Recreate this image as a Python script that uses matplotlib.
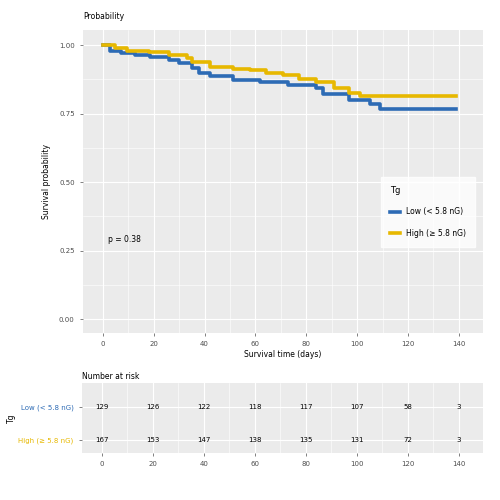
import matplotlib
matplotlib.use("Agg")
import matplotlib.pyplot as plt
import numpy as np

# survival curves (time in days, survival probability)
low_t = [0, 3, 7, 12.6, 18.5, 26, 30, 35, 38, 42, 51, 62, 73, 84, 86.5, 97, 105, 109, 139]
low_s = [1.0, 0.98, 0.97, 0.964, 0.957, 0.946, 0.935, 0.917, 0.90, 0.888, 0.873, 0.866,
         0.855, 0.844, 0.82, 0.80, 0.786, 0.768, 0.768]
high_t = [0, 4.7, 9.4, 18, 26, 33, 35, 42, 51, 58, 64, 71, 77, 84, 91, 97, 101, 139]
high_s = [1.0, 0.99, 0.98, 0.975, 0.965, 0.953, 0.94, 0.92, 0.913, 0.91, 0.90, 0.89,
          0.877, 0.866, 0.844, 0.826, 0.815, 0.815]

strata = ["Low (< 5.8 nG)", "High (\u2265 5.8 nG)"]
colors = ["#2D6BB5", "#E7B800"]
risk_times = [0, 20, 40, 60, 80, 100, 120, 140]
risk_low = [129, 126, 122, 118, 117, 107, 58, 3]
risk_high = [167, 153, 147, 138, 135, 131, 72, 3]
pval_text = "p = 0.38"

bg = "#EBEBEB"
fs = 5

fig = plt.figure(figsize=(5, 5), dpi=100)

# main survival panel
ax = fig.add_axes([0.166, 0.334, 0.8, 0.606])
ax.set_facecolor(bg)
ax.step(low_t, low_s, where="post", color=colors[0], lw=2.6, label=strata[0])
ax.step(high_t, high_s, where="post", color=colors[1], lw=2.6, label=strata[1])
ax.set_xlim(-7.8, 149.5)
ax.set_ylim(-0.05, 1.055)
ax.set_xticks(risk_times)
ax.set_yticks([0, 0.25, 0.5, 0.75, 1.0])
ax.set_yticklabels(["0.00", "0.25", "0.50", "0.75", "1.00"])
ax.set_xticks(np.arange(10, 150, 20), minor=True)
ax.set_yticks([0.125, 0.375, 0.625, 0.875], minor=True)
ax.grid(which="major", color="white", lw=0.8)
ax.grid(which="minor", color="white", lw=0.4)
ax.set_axisbelow(True)
for s in ax.spines.values():
    s.set_visible(False)
ax.tick_params(which="major", labelsize=fs, colors="#4D4D4D", length=2.5, width=0.5)
ax.tick_params(which="minor", length=0)
ax.set_xlabel("Survival time (days)", fontsize=fs + 0.5, labelpad=2)
ax.set_ylabel("Survival probability", fontsize=fs + 0.5, labelpad=6)
ax.set_title("Probability", fontsize=fs + 0.5, loc="left", pad=8, x=0.0)
ax.text(2, 0.29, pval_text, fontsize=fs + 0.5, va="center", ha="left")
leg = ax.legend(title="Tg", loc="center right", bbox_to_anchor=(0.99, 0.40),
                fontsize=fs + 0.5, title_fontsize=fs + 1, frameon=True, fancybox=False,
                edgecolor="white", facecolor="white", handlelength=1.3,
                borderpad=1.2, labelspacing=1.6, alignment="left")

# risk table panel
rt = fig.add_axes([0.164, 0.094, 0.802, 0.14])
rt.set_facecolor(bg)
for i, t in enumerate(risk_times):
    rt.text(t, 2, str(risk_low[i]), ha="center", va="center", fontsize=fs)
    rt.text(t, 1, str(risk_high[i]), ha="center", va="center", fontsize=fs)
rt.set_xlim(-7.8, 149.5)
rt.set_ylim(0.6, 2.73)
rt.set_xticks(risk_times)
rt.set_xticks(np.arange(10, 150, 20), minor=True)
rt.set_yticks([1, 2])
rt.set_yticklabels([strata[1], strata[0]])
rt.grid(which="major", color="white", lw=0.8)
rt.grid(which="minor", axis="x", color="white", lw=0.4)
rt.set_axisbelow(True)
for s in rt.spines.values():
    s.set_visible(False)
rt.tick_params(which="major", labelsize=fs, length=2.5, width=0.5, colors="#4D4D4D")
rt.tick_params(which="minor", length=0)
for lbl, c in zip(rt.get_yticklabels(), [colors[1], colors[0]]):
    lbl.set_color(c)
rt.set_ylabel("Tg", fontsize=fs + 0.5, labelpad=2)
rt.set_title("Number at risk", fontsize=fs + 0.5, loc="left", pad=3)

fig.savefig("out.png", dpi=100)
